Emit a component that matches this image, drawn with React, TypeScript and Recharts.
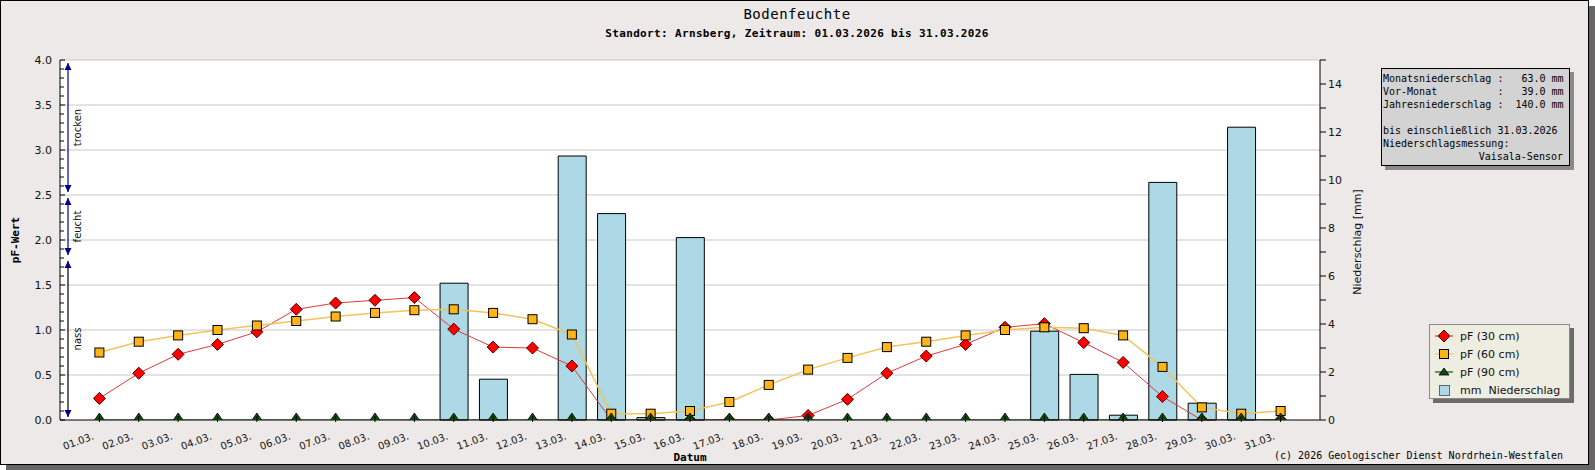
import {
  ComposedChart,
  Bar,
  Line,
  XAxis,
  YAxis,
  CartesianGrid,
  ReferenceArea,
} from "recharts";

const days = [
  "01.03.", "02.03.", "03.03.", "04.03.", "05.03.", "06.03.", "07.03.", "08.03.",
  "09.03.", "10.03.", "11.03.", "12.03.", "13.03.", "14.03.", "15.03.", "16.03.",
  "17.03.", "18.03.", "19.03.", "20.03.", "21.03.", "22.03.", "23.03.", "24.03.",
  "25.03.", "26.03.", "27.03.", "28.03.", "29.03.", "30.03.", "31.03.",
];

const pf30 = [
  0.24, 0.52, 0.73, 0.84, 0.98, 1.23, 1.3, 1.33, 1.36, 1.01, 0.81, 0.8, 0.6, 0, 0, 0,
  0, 0, 0.05, 0.23, 0.52, 0.71, 0.84, 1.03, 1.07, 0.86, 0.64, 0.26, 0, 0, 0,
];
const pf60 = [
  0.75, 0.87, 0.94, 1.0, 1.05, 1.1, 1.15, 1.19, 1.22, 1.23, 1.19, 1.12, 0.95, 0.07, 0.07, 0.1,
  0.2, 0.39, 0.56, 0.69, 0.81, 0.87, 0.94, 1.0, 1.03, 1.02, 0.94, 0.59, 0.14, 0.07, 0.1,
];
const pf90 = [
  0, 0, 0, 0, 0, 0, 0, 0, 0, 0, 0, 0, 0, 0, 0, 0,
  0, 0, 0, 0, 0, 0, 0, 0, 0, 0, 0, 0, 0, 0, 0,
];
const rain = [
  0, 0, 0, 0, 0, 0, 0, 0, 0, 5.7, 1.7, 0, 11.0, 8.6, 0.1, 7.6,
  0, 0, 0, 0, 0, 0, 0, 0, 3.7, 1.9, 0.2, 9.9, 0.7, 12.2, 0,
];

// pF axis: labels every 0.5, minor ticks every 0.1
const pfTicks = Array.from({ length: 41 }, (_, i) => i / 10);
const rainTicks = [0, 1, 2, 3, 4, 5, 6, 7, 8, 9, 10, 11, 12, 13, 14, 15];
const gridValues = [0.5, 1, 1.5, 2, 2.5, 3, 3.5, 4];

const zones = [
  { from: 2.5, to: 4.0, label: "trocken", line: "#00008c" },
  { from: 1.8, to: 2.5, label: "feucht", line: "#00008c" },
  { from: 0, to: 1.8, label: "nass", line: "#000000" },
];

const infoLines = [
  "Monatsniederschlag :   63.0 mm",
  "Vor-Monat          :   39.0 mm",
  "Jahresniederschlag :  140.0 mm",
  " ",
  "bis einschließlich 31.03.2026",
  "Niederschlagsmessung:",
];
const infoSensor = "Vaisala-Sensor";

const data = days.map((day, i) => ({
  day,
  pf30: pf30[i],
  pf60: pf60[i],
  pf90: pf90[i],
  mm: rain[i],
}));

const MONO = "'DejaVu Sans Mono', monospace";
const SANS = "'DejaVu Sans', sans-serif";
const BG = "#ECE9E8";
const XPAD = 19.7;

function Diamond(p: any) {
  const { cx, cy } = p;
  if (cx == null || cy == null) return null;
  return (
    <path
      d={`M${cx},${cy - 6}L${cx + 6},${cy}L${cx},${cy + 6}L${cx - 6},${cy}Z`}
      fill="#ff0000"
      stroke="#4a0000"
      strokeWidth={1}
    />
  );
}

function Square(p: any) {
  const { cx, cy } = p;
  if (cx == null || cy == null) return null;
  return <rect x={cx - 4.5} y={cy - 4.5} width={9} height={9} fill="#ffb419" stroke="#000" strokeWidth={1} />;
}

function Triangle(p: any) {
  const { cx, cy } = p;
  if (cx == null || cy == null) return null;
  return (
    <path d={`M${cx - 5.5},${cy + 1}L${cx + 5.5},${cy + 1}L${cx},${cy - 7}Z`} fill="#0b4a0b" stroke="#000" strokeWidth={0.8} />
  );
}

function PfTick(p: any) {
  const { x, y, payload } = p;
  const v = payload.value;
  const major = Number.isInteger(Math.round(v * 10) / 5);
  const ax = x + 8;
  return (
    <g>
      <line x1={ax} x2={ax + (major ? 5 : 4)} y1={y} y2={y} stroke="#000" />
      {major && (
        <text x={x} y={y} dy="0.36em" textAnchor="end" fontFamily={SANS} fontSize={11} fill="#111">
          {v.toFixed(1)}
        </text>
      )}
    </g>
  );
}

function RainTick(p: any) {
  const { x, y, payload } = p;
  if (payload.value % 2 !== 0) return <g />;
  return (
    <text x={x} y={y} dy="0.36em" textAnchor="start" fontFamily={SANS} fontSize={11} fill="#111">
      {payload.value}
    </text>
  );
}

function DayTick(p: any) {
  const { x, y, payload } = p;
  return (
    <g>
      <line x1={x} x2={x} y1={y} y2={y - 6} stroke="#000" />
      <text
        x={x - 5}
        y={y + 17}
        textAnchor="end"
        fontFamily={SANS}
        fontSize={10}
        fill="#111"
        transform={`rotate(-20 ${x - 5} ${y + 17})`}
      >
        {payload.value}
      </text>
    </g>
  );
}

function ZoneArrow(zone: { label: string; line: string }) {
  return function Shape(p: any) {
    const { x, y, height } = p;
    if (x == null) return null;
    // area starts after the axis padding; arrow sits 8px right of the axis line
    const ax = x - XPAD + 8;
    const top = y + 3;
    const bot = y + height - 3;
    return (
      <g>
        <line x1={ax} x2={ax} y1={top} y2={bot} stroke={zone.line} strokeWidth={1.2} />
        <path d={`M${ax},${top}L${ax + 3.5},${top + 7}L${ax - 3.5},${top + 7}Z`} fill="#00008c" />
        <path d={`M${ax},${bot}L${ax + 3.5},${bot - 7}L${ax - 3.5},${bot - 7}Z`} fill="#00008c" />
        <text
          x={ax + 9}
          y={y + height / 2}
          textAnchor="middle"
          dominantBaseline="central"
          fontFamily={SANS}
          fontSize={10}
          fill="#111"
          transform={`rotate(-90 ${ax + 9} ${y + height / 2})`}
        >
          {zone.label}
        </text>
      </g>
    );
  };
}

const legendItems = [
  { name: "pF (30 cm)", kind: "diamond", color: "#e23a3a" },
  { name: "pF (60 cm)", kind: "square", color: "#f0c45c" },
  { name: "pF (90 cm)", kind: "triangle", color: "#0b5a0b" },
  { name: "mm  Niederschlag", kind: "bar", color: "#add8e6" },
];

function LegendBox() {
  return (
    <div
      style={{
        position: "absolute",
        left: 1429,
        top: 324,
        width: 141,
        height: 75,
        boxSizing: "border-box",
        background: "#EDEDE2",
        border: "1px solid #8a8a8a",
        boxShadow: "4px 4px 0 #6b6b6b",
        paddingTop: 2,
      }}
    >
      {legendItems.map((it) => (
        <div key={it.name} style={{ display: "flex", alignItems: "center", height: 18 }}>
          <svg width={28} height={18} style={{ marginLeft: 2 }}>
            {it.kind !== "bar" && <line x1={3} x2={21} y1={9} y2={9} stroke={it.color} strokeWidth={1.2} />}
            {it.kind === "diamond" && <Diamond cx={12} cy={9} />}
            {it.kind === "square" && <Square cx={12} cy={9} />}
            {it.kind === "triangle" && (
              <path d="M7,12L17,12L12,5Z" fill="#0b4a0b" stroke="#000" strokeWidth={0.8} />
            )}
            {it.kind === "bar" && <rect x={7.5} y={4.5} width={10} height={10} fill={it.color} stroke="#666" />}
          </svg>
          <span style={{ fontFamily: SANS, fontSize: 11, color: "#111", whiteSpace: "pre" }}>{it.name}</span>
        </div>
      ))}
    </div>
  );
}

export default function App() {
  return (
    <div style={{ position: "relative", width: 1595, height: 470, overflow: "hidden" }}>
      <style>{"body{margin:0}"}</style>
      <div
        style={{
          position: "absolute",
          left: 0,
          top: 0,
          width: 1589,
          height: 465,
          boxSizing: "border-box",
          background: BG,
          border: "1px solid #000",
          boxShadow: "6px 6px 0 #666",
        }}
      />
      <div style={{ position: "absolute", left: 0, top: 0 }}>
        <ComposedChart
          width={1595}
          height={470}
          data={data}
          margin={{ top: 60, right: 235, bottom: 0, left: 0 }}
        >
          <CartesianGrid
            yAxisId="left"
            vertical={false}
            horizontalValues={gridValues}
            stroke="#c8c8c8"
            fill="#ffffff"
          />
          <XAxis
            dataKey="day"
            interval={0}
            height={50}
            padding={{ left: XPAD, right: XPAD }}
            tickSize={0}
            tickLine={false}
            axisLine={{ stroke: "#000" }}
            tick={<DayTick />}
          />
          <YAxis
            yAxisId="left"
            width={60}
            domain={[0, 4]}
            ticks={pfTicks}
            interval={0}
            allowDataOverflow
            tickSize={0}
            tickMargin={8}
            tickLine={false}
            axisLine={{ stroke: "#000" }}
            tick={<PfTick />}
          />
          <YAxis
            yAxisId="right"
            orientation="right"
            width={40}
            domain={[0, 15]}
            ticks={rainTicks}
            interval={0}
            tickSize={6}
            tickMargin={2}
            tickLine={{ stroke: "#000" }}
            axisLine={{ stroke: "#000" }}
            tick={<RainTick />}
          />
          <Bar
            yAxisId="right"
            dataKey="mm"
            name="mm  Niederschlag"
            barSize={28}
            fill="#add8e6"
            stroke="#000"
            strokeWidth={1}
            isAnimationActive={false}
          />
          <Line
            yAxisId="left"
            dataKey="pf30"
            name="pF (30 cm)"
            type="linear"
            stroke="#e03a3a"
            strokeWidth={1}
            dot={<Diamond />}
            activeDot={false}
            isAnimationActive={false}
          />
          <Line
            yAxisId="left"
            dataKey="pf60"
            name="pF (60 cm)"
            type="linear"
            stroke="#f2c45a"
            strokeWidth={1.5}
            dot={<Square />}
            activeDot={false}
            isAnimationActive={false}
          />
          <Line
            yAxisId="left"
            dataKey="pf90"
            name="pF (90 cm)"
            type="linear"
            stroke="#0b5a0b"
            strokeWidth={1}
            dot={<Triangle />}
            activeDot={false}
            isAnimationActive={false}
          />
          {zones.map((z) => (
            <ReferenceArea
              key={z.label}
              yAxisId="left"
              y1={z.from}
              y2={z.to}
              ifOverflow="visible"
              shape={ZoneArrow(z)}
            />
          ))}
        </ComposedChart>
      </div>
      <svg
        width={1595}
        height={470}
        style={{ position: "absolute", left: 0, top: 0, pointerEvents: "none" }}
      >
        <text x={797} y={19} textAnchor="middle" fontFamily={MONO} fontSize={14} letterSpacing={0.5} fill="#000">
          Bodenfeuchte
        </text>
        <text
          x={797}
          y={37}
          textAnchor="middle"
          fontFamily={MONO}
          fontSize={11}
          fontWeight="bold"
          letterSpacing={0.35}
          fill="#000"
        >
          Standort: Arnsberg, Zeitraum: 01.03.2026 bis 31.03.2026
        </text>
        <text x={690} y={461} textAnchor="middle" fontFamily={MONO} fontSize={11} fontWeight="bold" fill="#000">
          Datum
        </text>
        <text
          x={19}
          y={240}
          textAnchor="middle"
          fontFamily={MONO}
          fontSize={11}
          fontWeight="bold"
          fill="#000"
          transform="rotate(-90 19 240)"
        >
          pF-Wert
        </text>
        <text
          x={1361}
          y={242}
          textAnchor="middle"
          fontFamily={SANS}
          fontSize={11}
          fill="#111"
          transform="rotate(-90 1361 242)"
        >
          Niederschlag [mm]
        </text>
        <text x={1563} y={459} textAnchor="end" fontFamily={MONO} fontSize={10} fill="#000">
          (c) 2026 Geologischer Dienst Nordrhein-Westfalen
        </text>
      </svg>
      <div
        style={{
          position: "absolute",
          left: 1381,
          top: 68,
          width: 189,
          height: 98,
          boxSizing: "border-box",
          background: "#d3d3d3",
          border: "1px solid #000",
          boxShadow: "4px 4px 0 #8a8a8a",
          padding: "3px 6px 0 1px",
          fontFamily: MONO,
          fontSize: 10,
          lineHeight: "13px",
          color: "#000",
        }}
      >
        {infoLines.map((l, i) => (
          <div key={i} style={{ whiteSpace: "pre", height: 13 }}>
            {l}
          </div>
        ))}
        <div style={{ whiteSpace: "pre", textAlign: "right" }}>{infoSensor}</div>
      </div>
      <LegendBox />
    </div>
  );
}
